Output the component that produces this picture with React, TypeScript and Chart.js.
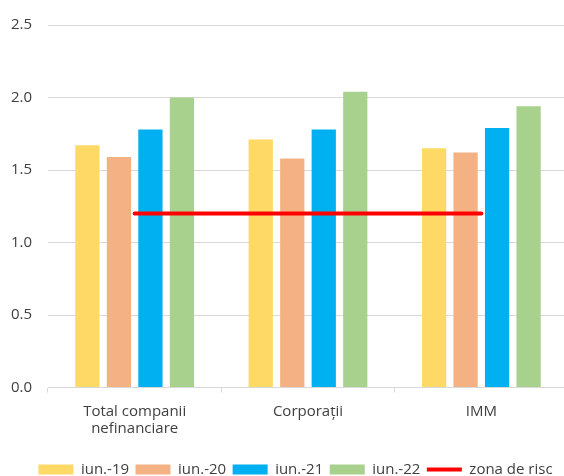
import React, { useEffect, useRef } from "react";
import { Chart, registerables } from "chart.js";

Chart.register(...registerables);

const categories: (string | string[])[] = [["Total companii", "nefinanciare"], "Corporații", "IMM"];
const seriesNames = ["iun.-19", "iun.-20", "iun.-21", "iun.-22"];
const iun19 = [1.67, 1.71, 1.65];
const iun20 = [1.59, 1.58, 1.62];
const iun21 = [1.78, 1.78, 1.79];
const iun22 = [2.0, 2.04, 1.94];
const riskLabel = "zona de risc";
const riskZone = [1.2, 1.2, 1.2];
const yTicks = [0, 0.5, 1.0, 1.5, 2.0, 2.5];

const barColors = ["#FFD966", "#F4B183", "#00B0F0", "#A9D18E"];
const red = "#FF0000";
const textColor = "#404040";
const gridColor = "#D9D9D9";
const fontFamily = "'Open Sans', 'Noto Sans', sans-serif";

const legendShift = {
  id: "legendShift",
  afterLayout(chart: any) {
    const lg = chart.legend;
    if (lg) {
      lg.left += 6;
      lg.right += 6;
    }
  },
};

export default function App() {
  const ref = useRef<HTMLCanvasElement | null>(null);

  useEffect(() => {
    if (!ref.current) return;
    const barSeries = [iun19, iun20, iun21, iun22];
    const chart = new Chart(ref.current, {
      type: "bar",
      plugins: [legendShift],
      data: {
        labels: categories,
        datasets: [
          {
            type: "line",
            label: riskLabel,
            data: riskZone,
            borderColor: red,
            backgroundColor: red,
            borderWidth: 4,
            borderCapStyle: "round",
            pointRadius: 0,
            pointHoverRadius: 0,
            fill: false,
          } as any,
          ...barSeries.map((d, i) => ({
            type: "bar",
            label: seriesNames[i],
            data: d,
            backgroundColor: barColors[i],
            borderWidth: 0,
            categoryPercentage: 0.727,
            barPercentage: 0.77,
          })),
        ],
      },
      options: {
        responsive: false,
        animation: false,
        layout: { padding: { left: 11, top: 21, right: 0, bottom: 0 } },
        plugins: {
          tooltip: { enabled: false },
          legend: {
            position: "bottom",
            labels: {
              usePointStyle: true,
              pointStyleWidth: 35,
              boxHeight: 10,
              padding: 6.5,
              color: textColor,
              font: { family: fontFamily, size: 15 },
              generateLabels: () => [
                ...seriesNames.map((name, i) => ({
                  text: name,
                  fillStyle: barColors[i],
                  strokeStyle: barColors[i],
                  lineWidth: 0,
                  pointStyle: "rect",
                  datasetIndex: i + 1,
                  hidden: false,
                  fontColor: textColor,
                })),
                {
                  text: riskLabel,
                  fillStyle: red,
                  strokeStyle: red,
                  lineWidth: 4,
                  pointStyle: "line",
                  datasetIndex: 0,
                  hidden: false,
                  fontColor: textColor,
                },
              ] as any,
            },
          },
        },
        scales: {
          x: {
            grid: {
              offset: true,
              drawOnChartArea: false,
              drawTicks: true,
              tickLength: 5,
              color: gridColor,
            },
            border: { color: gridColor },
            ticks: {
              padding: 11,
              color: textColor,
              font: { family: fontFamily, size: 15, lineHeight: 1.1 },
              maxRotation: 0,
            },
            afterFit: (scale: any) => {
              scale.height = 68;
            },
          },
          y: {
            min: 0,
            max: 2.5,
            afterBuildTicks: (scale: any) => {
              scale.ticks = yTicks.map((v) => ({ value: v }));
            },
            afterFit: (scale: any) => {
              scale.width = 37;
            },
            grid: { color: gridColor, drawTicks: false },
            border: { display: false },
            ticks: {
              padding: 16,
              color: textColor,
              font: { family: fontFamily, size: 15 },
              callback: (v: any) => Number(v).toFixed(1),
            },
          },
        },
      },
    });
    return () => chart.destroy();
  }, []);

  return (
    <div
      style={{
        position: "fixed",
        left: 0,
        top: 0,
        width: 564,
        height: 476,
        overflow: "hidden",
        background: "#fff",
      }}
    >
      <canvas ref={ref} width={568} height={487} style={{ display: "block" }} />
    </div>
  );
}
